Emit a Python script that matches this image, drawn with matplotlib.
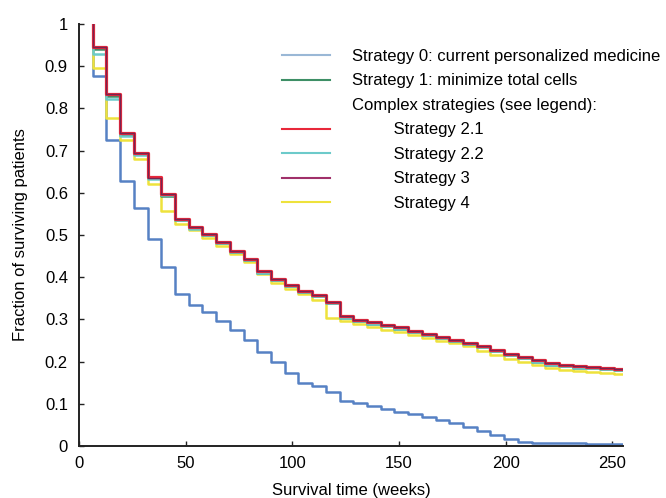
import matplotlib
matplotlib.use("Agg")
import matplotlib.pyplot as plt
from matplotlib.lines import Line2D

plt.rcParams['font.family'] = ['Liberation Sans', 'DejaVu Sans']

# Step times (weeks): each series drops at these times; last value is the end of the axis
times = [6.43, 12.86, 19.29, 25.71, 32.14, 38.57, 45.0, 51.43, 57.86, 64.29,
         70.71, 77.14, 83.57, 90.0, 96.43, 102.86, 109.29, 115.71, 122.14, 128.57,
         135.0, 141.43, 147.86, 154.29, 160.71, 167.14, 173.57, 180.0, 186.43, 192.86,
         199.29, 205.71, 212.14, 218.57, 225.0, 231.43, 237.86, 244.29, 250.71, 255.0]

strategy0 = [1.0, 0.876, 0.724, 0.628, 0.565, 0.491, 0.424, 0.360, 0.335, 0.318,
             0.297, 0.275, 0.251, 0.222, 0.198, 0.172, 0.150, 0.142, 0.128, 0.107,
             0.101, 0.095, 0.087, 0.081, 0.075, 0.069, 0.061, 0.054, 0.046, 0.036,
             0.027, 0.016, 0.010, 0.008, 0.007, 0.006, 0.006, 0.005, 0.005, 0.005]

strategy1 = [1.0, 0.940, 0.830, 0.738, 0.692, 0.634, 0.593, 0.536, 0.516, 0.499,
             0.480, 0.460, 0.440, 0.411, 0.393, 0.378, 0.365, 0.355, 0.339, 0.304,
             0.296, 0.290, 0.284, 0.278, 0.270, 0.263, 0.255, 0.248, 0.242, 0.235,
             0.225, 0.216, 0.208, 0.200, 0.193, 0.189, 0.186, 0.184, 0.182, 0.180]

strategy21 = [1.0, 0.946, 0.835, 0.742, 0.695, 0.637, 0.598, 0.538, 0.518, 0.502,
              0.483, 0.463, 0.443, 0.414, 0.396, 0.381, 0.368, 0.358, 0.342, 0.307,
              0.299, 0.293, 0.287, 0.281, 0.273, 0.266, 0.258, 0.251, 0.245, 0.238,
              0.228, 0.219, 0.211, 0.203, 0.196, 0.192, 0.189, 0.187, 0.185, 0.183]

strategy22 = [1.0, 0.928, 0.823, 0.735, 0.690, 0.632, 0.594, 0.535, 0.515, 0.499,
              0.480, 0.460, 0.440, 0.411, 0.393, 0.378, 0.365, 0.355, 0.339, 0.304,
              0.296, 0.290, 0.284, 0.278, 0.270, 0.263, 0.255, 0.248, 0.242, 0.235,
              0.225, 0.216, 0.208, 0.200, 0.193, 0.189, 0.186, 0.184, 0.182, 0.180]

strategy3 = [1.0, 0.945, 0.834, 0.741, 0.694, 0.636, 0.597, 0.538, 0.518, 0.502,
             0.483, 0.463, 0.443, 0.414, 0.396, 0.381, 0.368, 0.358, 0.342, 0.307,
             0.299, 0.293, 0.287, 0.281, 0.273, 0.266, 0.258, 0.251, 0.245, 0.238,
             0.228, 0.219, 0.211, 0.203, 0.196, 0.192, 0.189, 0.187, 0.185, 0.183]

strategy4 = [1.0, 0.895, 0.778, 0.725, 0.680, 0.622, 0.556, 0.527, 0.511, 0.494,
             0.475, 0.455, 0.435, 0.408, 0.386, 0.371, 0.360, 0.345, 0.303, 0.297,
             0.289, 0.282, 0.276, 0.270, 0.263, 0.257, 0.250, 0.243, 0.236, 0.226,
             0.216, 0.207, 0.199, 0.191, 0.184, 0.180, 0.177, 0.175, 0.173, 0.171]

labels = ["Strategy 0: current personalized medicine",
          "Strategy 1: minimize total cells",
          "Complex strategies (see legend):",
          "Strategy 2.1", "Strategy 2.2", "Strategy 3", "Strategy 4"]

xticks = [0, 50, 100, 150, 200, 250]
yticks = [0, 0.1, 0.2, 0.3, 0.4, 0.5, 0.6, 0.7, 0.8, 0.9, 1.0]
ytick_labels = ["0", "0.1", "0.2", "0.3", "0.4", "0.5", "0.6", "0.7", "0.8", "0.9", "1"]

c_blue = '#5681c4'
c_green = '#3e8f66'
c_red = '#e8283a'
c_cyan = '#6ccaca'
c_purple = '#7a2450'
c_yellow = '#eee23c'

fig = plt.figure(figsize=(6.66, 4.98), dpi=100)
ax = fig.add_axes([79/666, 52/498, 544/666, 422/498])

lw = 1.8
ax.plot(times, strategy0, drawstyle='steps-pre', color=c_blue, lw=lw, zorder=2)
ax.plot(times, strategy1, drawstyle='steps-pre', color=c_green, lw=lw, zorder=4)
ax.plot(times, strategy22, drawstyle='steps-pre', color=c_cyan, lw=lw, zorder=5)
ax.plot(times, strategy21, drawstyle='steps-pre', color=c_red, lw=2.3, zorder=6)
ax.plot(times, strategy3, drawstyle='steps-pre', color=c_purple, lw=1.0, zorder=7)
ax.plot(times, strategy4, drawstyle='steps-pre', color=c_yellow, lw=lw, zorder=3)

ax.set_xlim(0, 255)
ax.set_ylim(0, 1)
ax.set_xticks(xticks)
ax.set_xticklabels([str(v) for v in xticks])
ax.set_yticks(yticks)
ax.set_yticklabels(ytick_labels)
ax.tick_params(axis='both', direction='in', length=3.5, width=1, labelsize=12, color='#222222')
ax.tick_params(axis='y', pad=8)
ax.tick_params(axis='x', pad=7)
for s in ['top', 'right']:
    ax.spines[s].set_visible(False)
for s in ['left', 'bottom']:
    ax.spines[s].set_linewidth(1.4)
    ax.spines[s].set_color('#222222')

ax.set_xlabel("Survival time (weeks)", fontsize=12, labelpad=9)
ax.set_ylabel("Fraction of surviving patients", fontsize=12, labelpad=12)

indent = "         "
handles = [Line2D([], [], color='#9ab8d6', lw=1.5),
           Line2D([], [], color=c_green, lw=1.5),
           Line2D([], [], color='none', lw=1.5),
           Line2D([], [], color=c_red, lw=1.5),
           Line2D([], [], color=c_cyan, lw=1.5),
           Line2D([], [], color='#a0306a', lw=1.5),
           Line2D([], [], color=c_yellow, lw=1.5)]
leg_labels = [labels[0], labels[1], labels[2]] + [indent + l for l in labels[3:]]
ax.legend(handles, leg_labels, loc='upper left', bbox_to_anchor=(0.373, 0.941),
          frameon=False, fontsize=12, handlelength=2.9, handletextpad=1.3,
          borderpad=0, borderaxespad=0, labelspacing=0.57)

fig.savefig("out.png", dpi=100)
